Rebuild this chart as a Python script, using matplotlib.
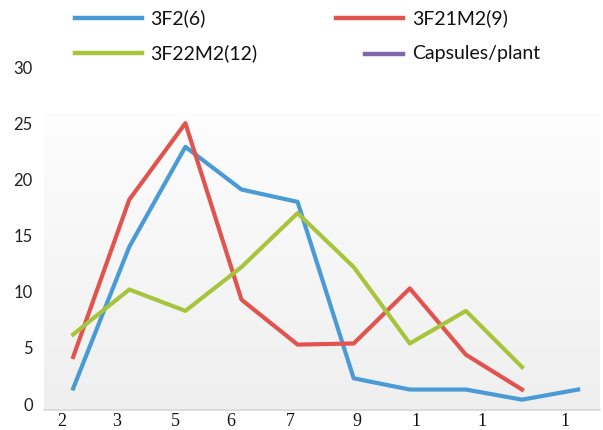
import numpy as np
import matplotlib
matplotlib.use("Agg")
import matplotlib.pyplot as plt
from matplotlib.lines import Line2D
from matplotlib.colors import LinearSegmentedColormap

# data
blue_vals = [1.4, 14.0, 22.9, 19.1, 18.0, 2.3, 1.3, 1.3, 0.4, 1.3]
red_vals = [4.2, 18.2, 25.0, 9.3, 5.3, 5.4, 10.3, 4.4, 1.3]
green_vals = [6.2, 10.2, 8.3, 12.2, 17.0, 12.2, 5.4, 8.3, 3.3]
series_names = ["3F2(6)", "3F21M2(9)", "3F22M2(12)", "Capsules/plant"]
y_ticks = [0, 5, 10, 15, 20, 25, 30]
x_labels = ["2", "3", "5", "6", "7", "9", "1", "1", "1"]
# label positions are off-grid in the original figure
x_label_pos = [-0.21, 0.77, 1.82, 2.80, 3.87, 5.06, 6.11, 7.29, 8.77]

colors = {"blue": "#4a9ad6", "red": "#e0534f", "green": "#a8c43c", "purple": "#8066a8"}

fig = plt.figure(figsize=(6.03, 4.30), dpi=100)
ax = fig.add_axes([44 / 603, 20 / 430, 556 / 603, (410 - 55.8) / 430])

xlim = (-0.52, 9.39)
ylim = (-0.52, 31)
ax.set_xlim(*xlim)
ax.set_ylim(*ylim)

# gradient plot area (white top -> light grey bottom)
grad = np.linspace(0.0, 1.0, 256).reshape(-1, 1)
top_val = 25.9
cmap = LinearSegmentedColormap.from_list("bg", ["#efefef", "#fdfdfd"])
ax.imshow(grad, extent=[xlim[0], xlim[1], ylim[0], top_val], aspect="auto",
          cmap=cmap, origin="lower", zorder=0, vmin=0, vmax=1)

lw = 3.0
ax.plot(range(len(blue_vals)), blue_vals, color=colors["blue"], lw=lw, zorder=3)
ax.plot(range(len(red_vals)), red_vals, color=colors["red"], lw=lw, zorder=3)
ax.plot(range(len(green_vals)), green_vals, color=colors["green"], lw=lw, zorder=3)

for s in ["top", "right", "left"]:
    ax.spines[s].set_visible(False)
ax.spines["bottom"].set_color("#d8d8d8")
ax.spines["bottom"].set_linewidth(1.2)

ax.set_yticks(y_ticks)
ax.set_yticklabels([str(v) for v in y_ticks], fontfamily="Lato", fontsize=12, color="#222222")
ax.tick_params(axis="y", length=0, pad=8)
ax.set_xticks(x_label_pos)
ax.set_xticklabels(x_labels, fontfamily="Liberation Serif", fontsize=13, color="#111111")
ax.tick_params(axis="x", length=0, pad=2)

# legend drawn by hand, two columns
leg = [
    (series_names[0], colors["blue"], 75, 142, 150, 18),
    (series_names[1], colors["red"], 336, 403, 412, 18),
    (series_names[2], colors["green"], 75, 142, 150, 53),
    (series_names[3], colors["purple"], 365, 403, 412, 54),
]
for name, c, x0, x1, xt, y in leg:
    fy = 1 - y / 430
    fig.add_artist(Line2D([x0 / 603, x1 / 603], [fy, fy], color=c, lw=3.2))
    fig.text(xt / 603, fy, name, fontfamily="Lato", fontsize=14, va="center",
             ha="left", color="#111111")

fig.savefig("out.png", dpi=100)
